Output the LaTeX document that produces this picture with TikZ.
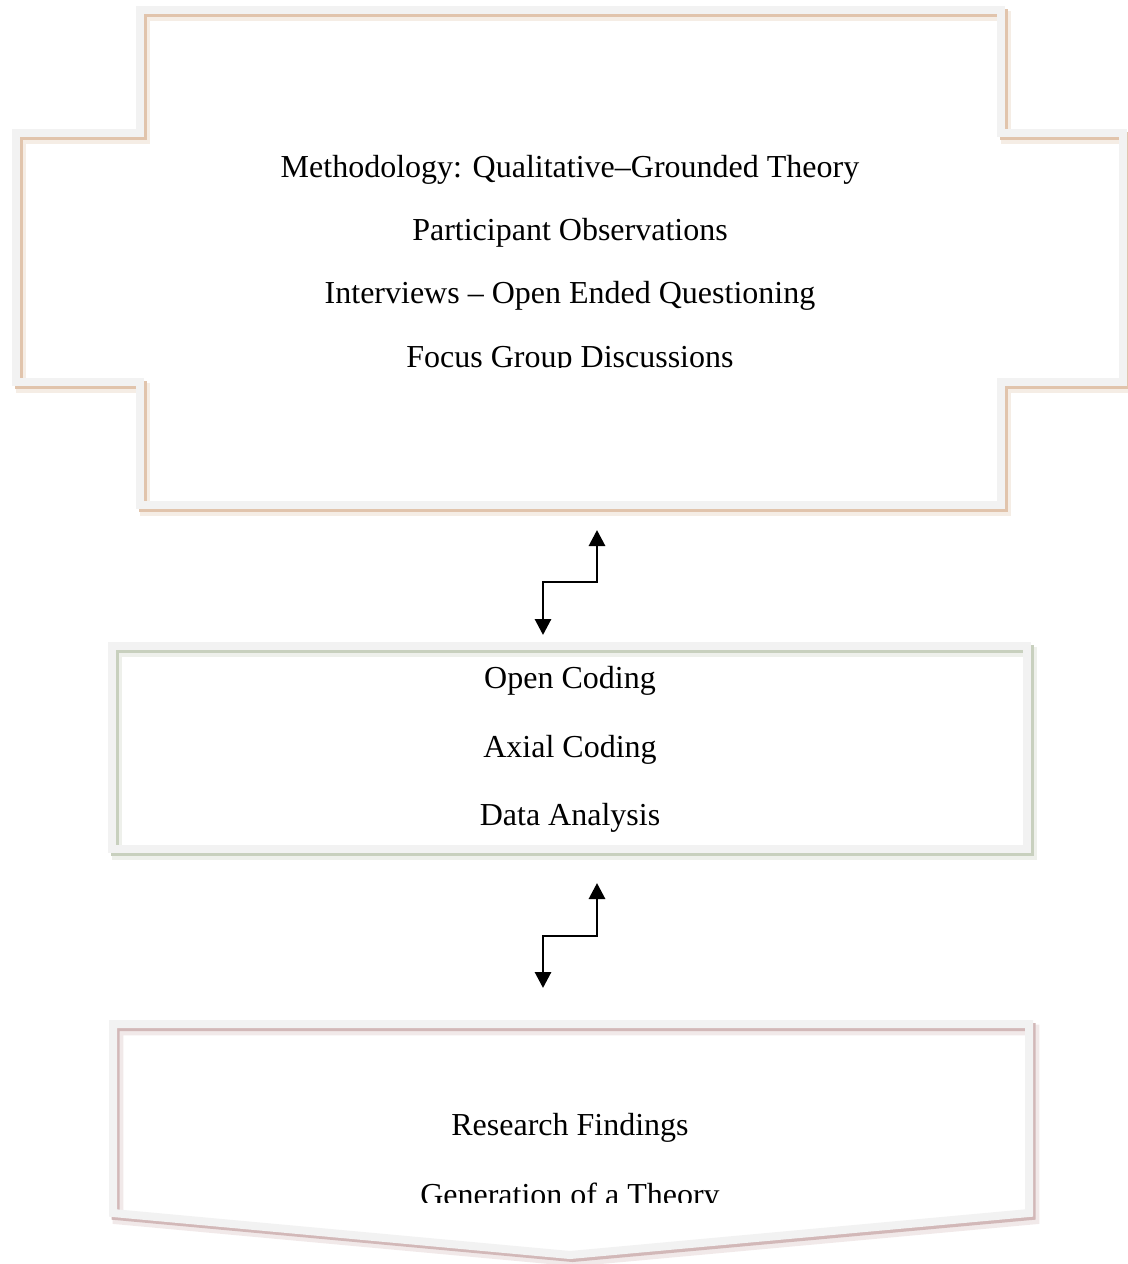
\documentclass[tikz,border=0pt]{standalone}
\usepackage{fontspec}
\setmainfont{Liberation Serif}
\usetikzlibrary{arrows.meta}
\definecolor{bandgray}{RGB}{242,242,242}
\definecolor{tanshadow}{RGB}{225,196,172}
\definecolor{greenshadow}{RGB}{200,208,190}
\definecolor{mauveshadow}{RGB}{210,184,184}
\tikzset{
  band/.style={line width=6pt, draw=bandgray, line join=miter},
  bandshadow/.style={line width=6pt, draw=#1, line join=miter},
  blurshadow/.style={line width=8pt, draw=#1, opacity=0.3, line join=miter},
  txt/.style={font=\fontsize{24pt}{28pt}\selectfont, inner sep=0pt, anchor=base},
  zigzag/.style={line width=2.2pt, {Triangle[width=12pt,length=12pt]}-{Triangle[width=12pt,length=12pt]}},
}
\begin{document}
\begin{tikzpicture}[x=0.75pt,y=-0.75pt]
\useasboundingbox[fill=white] (0,0) rectangle (1128,1264);
% ---------- top cross-shaped box ----------
\foreach \dx/\dy/\sty in {5/6/blurshadow, 2.5/3/bandshadow, 0/0/band}{
  \draw[\sty=tanshadow, shift={(\dx,\dy)}] (140,10) -- (1001,10) -- (1001,133) -- (1123,133) -- (1123,382) -- (1001,382) -- (1001,505) -- (140,505) -- (140,382) -- (16,382) -- (16,133) -- (140,133) -- cycle;
}
% ---------- middle box ----------
\foreach \dx/\dy/\sty in {5/6/blurshadow, 2.5/3/bandshadow, 0/0/band}{
  \draw[\sty=greenshadow, shift={(\dx,\dy)}] (112,646) rectangle (1027,849);
}
% ---------- bottom pentagon ----------
\foreach \dx/\dy/\sty in {5/6/blurshadow, 2.5/3/bandshadow, 0/0/band}{
  \draw[\sty=mauveshadow, shift={(\dx,\dy)}] (113,1024) -- (1029,1024) -- (1029,1213) -- (570,1255) -- (113,1213) -- cycle;
}
% ---------- texts ----------
\node[txt] (t1) at (570,177) {Methodology: Qualitative–Grounded Theory};
\node[txt] (t2) at (570,240) {Participant Observations};
\node[txt] (t3) at (570,303) {Interviews – Open Ended Questioning};
\begin{scope}
  \clip (0,0) rectangle (1128,367);
  \node[txt] (t4) at (570,367) {Focus Group Discussions};
\end{scope}
\node[txt] (m1) at (570,688) {Open Coding};
\node[txt] (m2) at (570,757) {Axial Coding};
\node[txt] (m3) at (570,825) {Data Analysis};
\node[txt] (b1) at (570,1135) {Research Findings};
\begin{scope}
  \clip (0,0) rectangle (1128,1202);
  \node[txt] (b2) at (570,1205) {Generation of a Theory};
\end{scope}
% ---------- connectors ----------
\coordinate (a1bot) at (543,635);
\coordinate (a1top) at (597,530);
\coordinate (a2bot) at (543,988);
\coordinate (a2top) at (597,883);
\draw[zigzag] (a1bot) -- ++(0,-53) -| (a1top);
\draw[zigzag] (a2bot) -- ++(0,-52) -| (a2top);
\end{tikzpicture}
\end{document}
